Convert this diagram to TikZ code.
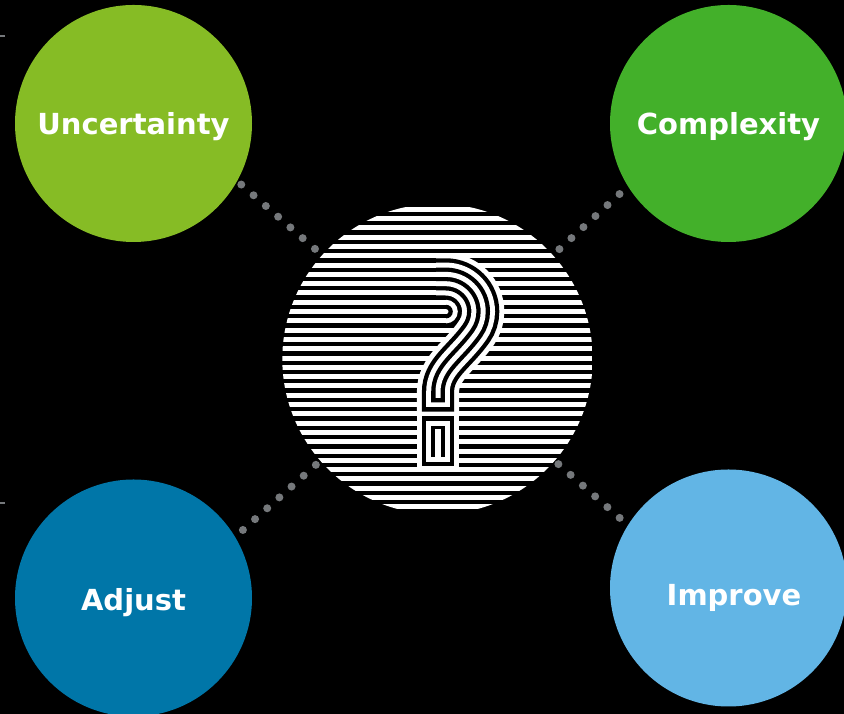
\documentclass[tikz,border=0pt]{standalone}
\usepackage{fontspec}
\setmainfont{DejaVu Sans}
\definecolor{uncgreen}{HTML}{86BC25}
\definecolor{cpxgreen}{HTML}{43B02A}
\definecolor{adjblue}{HTML}{0076A8}
\definecolor{impblue}{HTML}{62B5E5}
\definecolor{dotgray}{HTML}{75787B}
\tikzset{
  bubble/.style={circle, minimum size=237pt, inner sep=0pt, outer sep=0pt},
  bubbletext/.style={anchor=base, inner sep=0pt, text=white, font=\fontsize{29}{29}\selectfont\bfseries},
  dotline/.style={dotgray, line width=8pt, line cap=round, dash pattern=on 0pt off 16.3pt},
  stripe/.style={white, line width=5pt}
}

\begin{document}
\begin{tikzpicture}[x=1pt, y=1pt]
\useasboundingbox (0,0) rectangle (844,714);
\fill[black] (0,0) rectangle (844,714);
\draw[dotgray, line width=1.2pt] (0,678) -- (4.5,678); % side ticks
\draw[dotgray, line width=1.2pt] (0,211) -- (4.5,211);
\node[circle, minimum size=310.4pt, inner sep=0pt, outer sep=0pt] (quest) at (437.5,355) {};
\node[bubble, fill=uncgreen] (unc) at (133.5,590.5) {};
\node[bubble, fill=cpxgreen] (cpx) at (728.5,590.5) {};
\node[bubble, fill=adjblue] (adj) at (133.5,116) {};
\node[bubble, fill=impblue] (imp) at (728.5,126) {};
\node[bubbletext] (unctext) at (133.5,579) {Uncertainty};
\node[bubbletext] (cpxtext) at (728.5,579) {Complexity};
\node[bubbletext] (adjtext) at (133.5,103) {Adjust};
\node[bubbletext] (imptext) at (734,108) {Improve};
% dotted connectors
\draw[dotline, shorten <=5.5pt, shorten >=5pt] (unc.-29) -- (quest.138);
\draw[dotline, shorten <=11.5pt, shorten >=7pt] (cpx.212.8) -- (quest.42.2);
\draw[dotline, shorten <=10.5pt, shorten >=4pt] (adj.31.2) -- (quest.221.6);
\draw[dotline, shorten <=5pt, shorten >=10pt] (quest.-41.8) -- (imp.148.6);
% striped disc
\begin{scope}
\clip (quest.center) circle (155.2pt);
\foreach \k in {0,...,32}
  \draw[stripe] (282,{504.7-9.3*\k}) -- (593,{504.7-9.3*\k});
% hook eye
\fill[black] (446,418.5) arc (90:-90:16.1) -- cycle;
\fill[white] (446,414.2) arc (90:-90:11.8) -- cycle;
\fill[black] (446,409.2) arc (90:-90:6.8) -- cycle;
\fill[white] (446,404.9) arc (90:-90:2.5) -- cycle;
% question mark band
\foreach \w/\c/\e in {42.2/white/297.8, 32.2/black/302.4, 23.6/white/307, 13.6/black/311.6, 5/white/316.2}
  \draw[\c, line width=\w pt] (436,439.6) -- (446,439.6) arc (90:-35:37.2)
    .. controls (459.2,356.5) and (438,346) .. (438,322) -- (438,\e);
% point of the mark
\fill[white] (416.9,242.6) rectangle (459.1,302.4);
\fill[black] (421.9,247.6) rectangle (454.1,297.6);
\fill[white] (426.2,251.8) rectangle (449.8,293.4);
\fill[black] (431.2,256.8) rectangle (444.8,288.4);
\fill[white] (435.2,257) rectangle (440.8,285);
\end{scope}
\end{tikzpicture}
\end{document}
